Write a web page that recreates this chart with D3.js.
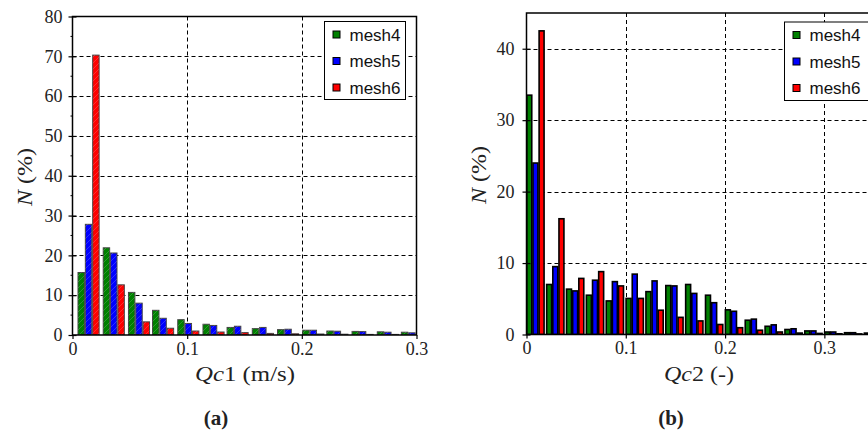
<!DOCTYPE html>
<html>
<head>
<meta charset="utf-8">
<script src="https://cdn.jsdelivr.net/npm/d3@7"></script>
<style>
  body { margin: 0; background: #fff; }
  svg { display: block; }
</style>
</head>
<body>
<svg id="chart" width="868" height="430"></svg>
<script>
// (a) Qc1 histogram, bin centres in m/s
const binsA = [0.014, 0.036, 0.058, 0.079, 0.101, 0.123, 0.144, 0.166, 0.188, 0.210, 0.231, 0.253, 0.275, 0.296];
const mesh4A = [15.7, 21.9, 10.7, 6.2, 3.85, 2.7, 1.9, 1.6, 1.35, 1.2, 1.0, 0.9, 0.8, 0.7];
const mesh5A = [27.8, 20.6, 8.0, 4.2, 2.9, 2.4, 2.2, 1.9, 1.45, 1.2, 0.95, 0.85, 0.7, 0.55];
const mesh6A = [70.3, 12.6, 3.3, 1.7, 1.0, 0.75, 0.6, 0.4, 0.3, 0.25, 0.2, 0.15, 0.15, 0.1];

// (b) Qc2 histogram, bin centres (-)
const binsB = [0.009, 0.029, 0.049, 0.069, 0.089, 0.109, 0.129, 0.149, 0.169, 0.189, 0.209, 0.229, 0.249, 0.269, 0.289, 0.309, 0.329, 0.349];
const mesh4B = [33.5, 7.0, 6.35, 5.5, 4.7, 5.05, 6.0, 6.85, 7.0, 5.5, 3.45, 2.0, 1.15, 0.7, 0.5, 0.35, 0.25, 0.2];
const mesh5B = [24.0, 9.5, 6.1, 7.6, 7.4, 8.45, 7.5, 6.8, 5.75, 4.45, 3.25, 2.15, 1.35, 0.8, 0.5, 0.35, 0.25, 0.15];
const mesh6B = [42.5, 16.2, 7.85, 8.8, 6.8, 5.05, 3.4, 2.4, 1.9, 1.4, 0.95, 0.6, 0.35, 0.2, 0.15, 0.1, 0.08, 0.05];

const seriesNames = ["mesh4", "mesh5", "mesh6"];
const colors = ["#008000", "#0000ff", "#ff0000"];

const SERIF = "Liberation Serif";
const SANS = "Liberation Sans";

const svg = d3.select("#chart");
const defs = svg.append("defs");

// faint diagonal hatch seen on the (a) bars
defs.append("pattern")
    .attr("id", "hatch")
    .attr("patternUnits", "userSpaceOnUse")
    .attr("width", 6).attr("height", 6)
    .append("path")
    .attr("d", "M0,6L6,0")
    .attr("stroke", "#fff")
    .attr("stroke-opacity", 0.18)
    .attr("stroke-width", 1);

function drawPanel(cfg) {
    const x = d3.scaleLinear().domain(cfg.xDomain).range([cfg.left, cfg.right]);
    const y = d3.scaleLinear().domain(cfg.yDomain).range([cfg.bottom, cfg.top]);
    const g = svg.append("g");

    defs.append("clipPath").attr("id", cfg.id + "-clip")
        .append("rect")
        .attr("x", cfg.left).attr("y", cfg.top - 5)
        .attr("width", cfg.right - cfg.left).attr("height", cfg.bottom - cfg.top + 5);

    // grid
    const grid = g.append("g").attr("stroke", "#000").attr("stroke-width", 1)
        .attr("stroke-dasharray", "4,3").attr("fill", "none");
    cfg.yGrid.forEach(v => grid.append("line")
        .attr("x1", cfg.left).attr("x2", cfg.right)
        .attr("y1", Math.round(y(v)) + 0.5).attr("y2", Math.round(y(v)) + 0.5));
    cfg.xGrid.forEach(v => grid.append("line")
        .attr("y1", cfg.top).attr("y2", cfg.bottom)
        .attr("x1", Math.round(x(v)) + 0.5).attr("x2", Math.round(x(v)) + 0.5));

    // bars
    const bars = g.append("g").attr("clip-path", `url(#${cfg.id}-clip)`);
    cfg.series.forEach((vals, s) => {
        const off = (s - 1) * cfg.step;
        const data = vals.map((v, i) => ({ c: cfg.bins[i] + off, v }));
        bars.selectAll(null).data(data).join("rect")
            .attr("x", d => x(d.c - cfg.barW / 2))
            .attr("width", d => x(d.c + cfg.barW / 2) - x(d.c - cfg.barW / 2))
            .attr("y", d => y(d.v))
            .attr("height", d => y(0) - y(d.v))
            .attr("fill", colors[s])
            .attr("stroke", cfg.barStroke)
            .attr("stroke-width", cfg.barStrokeW);
        if (cfg.hatch) {
            bars.selectAll(null).data(data).join("rect")
                .attr("x", d => x(d.c - cfg.barW / 2))
                .attr("width", d => x(d.c + cfg.barW / 2) - x(d.c - cfg.barW / 2))
                .attr("y", d => y(d.v))
                .attr("height", d => y(0) - y(d.v))
                .attr("fill", "url(#hatch)");
        }
    });

    // frame
    g.append("path")
        .attr("d", `M${cfg.left},${cfg.bottom}V${cfg.top}H${cfg.right}V${cfg.bottom}Z`)
        .attr("fill", "none").attr("stroke", "#000").attr("stroke-width", 1.5);

    // axes
    const xAxis = g.append("g").attr("transform", `translate(0,${cfg.bottom})`)
        .call(d3.axisBottom(x).tickValues(cfg.xTicks).tickSize(4).tickPadding(3)
            .tickFormat(d => d === 0 ? "0" : d3.format(".1f")(d)));
    xAxis.select(".domain").remove();
    xAxis.selectAll(".tick line").attr("stroke-width", 1.2);
    xAxis.attr("font-family", SERIF).attr("font-size", 18);

    const yAxis = g.append("g").attr("transform", `translate(${cfg.left},0)`)
        .call(d3.axisLeft(y).tickValues(cfg.yTicks).tickSize(4).tickPadding(cfg.yPad).tickFormat(d3.format("d")));
    yAxis.select(".domain").remove();
    yAxis.selectAll(".tick line").attr("x2", 4).attr("x1", -4).attr("stroke-width", 1.2);
    yAxis.attr("font-family", SERIF).attr("font-size", 18);
    g.selectAll(".tick text").attr("fill", "#222");

    if (cfg.yMinor) {
        g.append("g").selectAll("line").data(cfg.yMinor).join("line")
            .attr("x1", cfg.left - 2).attr("x2", cfg.left)
            .attr("y1", d => y(d)).attr("y2", d => y(d))
            .attr("stroke", "#000");
    }

    // axis labels
    const xl = g.append("text")
        .attr("font-family", SERIF).attr("font-size", 22).attr("fill", "#222")
        .attr("x", cfg.xLabX).attr("y", 381).attr("text-anchor", "middle")
        .attr("textLength", cfg.xLabW).attr("lengthAdjust", "spacingAndGlyphs");
    xl.append("tspan").attr("font-style", "italic").text("Qc");
    xl.append("tspan").text(cfg.xLabel);

    const yl = g.append("text")
        .attr("font-family", SERIF).attr("font-size", 22).attr("fill", "#222")
        .attr("transform", `translate(${cfg.yLabX},${cfg.yLabY}) rotate(-90)`)
        .attr("text-anchor", "middle")
        .attr("textLength", 58).attr("lengthAdjust", "spacingAndGlyphs");
    yl.append("tspan").attr("font-style", "italic").text("N");
    yl.append("tspan").text(" (%)");

    g.append("text")
        .attr("font-family", SERIF).attr("font-size", 21).attr("font-weight", "bold").attr("fill", "#222")
        .attr("x", cfg.capX).attr("y", 425).attr("text-anchor", "middle")
        .text(cfg.caption);

    // legend
    const lg = g.append("g");
    lg.append("rect")
        .attr("x", cfg.leg.x).attr("y", cfg.leg.y)
        .attr("width", cfg.leg.w).attr("height", cfg.leg.h)
        .attr("fill", "#fff").attr("stroke", "#000").attr("stroke-width", 1);
    seriesNames.forEach((name, i) => {
        const cy = cfg.leg.y + 13 + i * 26.5;
        lg.append("rect")
            .attr("x", cfg.leg.x + 8.5).attr("y", cy - 3.5)
            .attr("width", 7).attr("height", 7)
            .attr("fill", colors[i]).attr("stroke", "#000").attr("stroke-width", 1);
        lg.append("text")
            .attr("font-family", SANS).attr("font-size", 17).attr("fill", "#111")
            .attr("x", cfg.leg.x + 25).attr("y", cy + 6).text(name);
    });
}

drawPanel({
    id: "a",
    bins: binsA, series: [mesh4A, mesh5A, mesh6A],
    xDomain: [0, 0.3], yDomain: [0, 80],
    left: 72.5, right: 416.5, top: 16.5, bottom: 335,
    xTicks: [0, 0.1, 0.2, 0.3], yTicks: d3.range(0, 81, 10),
    yMinor: d3.range(5, 80, 10),
    xGrid: [0.1, 0.2], yGrid: d3.range(10, 80, 10),
    step: 0.0064, barW: 0.0056,
    barStroke: "#444", barStrokeW: 1, hatch: true,
    yPad: 6,
    xLabX: 245, xLabW: 100,
    yLabX: 32, yLabY: 177,
    xLabel: "1 (m/s)", caption: "(a)", capX: 216,
    leg: { x: 324.5, y: 21.5, w: 81, h: 78 }
});

drawPanel({
    id: "b",
    bins: binsB, series: [mesh4B, mesh5B, mesh6B],
    xDomain: [0, 0.35], yDomain: [0, 45],
    left: 526.5, right: 874, top: 13, bottom: 334.5,
    xTicks: [0, 0.1, 0.2, 0.3], yTicks: [0, 10, 20, 30, 40],
    yMinor: null,
    xGrid: [0.1, 0.2, 0.3], yGrid: [10, 20, 30, 40],
    step: 0.0062, barW: 0.0050,
    barStroke: "#000", barStrokeW: 1.6, hatch: false,
    yPad: 8,
    xLabX: 699, xLabW: 70,
    yLabX: 486, yLabY: 175,
    xLabel: "2 (-)", caption: "(b)", capX: 671,
    leg: { x: 784.5, y: 22, w: 100, h: 78.5 }
});
</script>
</body>
</html>
